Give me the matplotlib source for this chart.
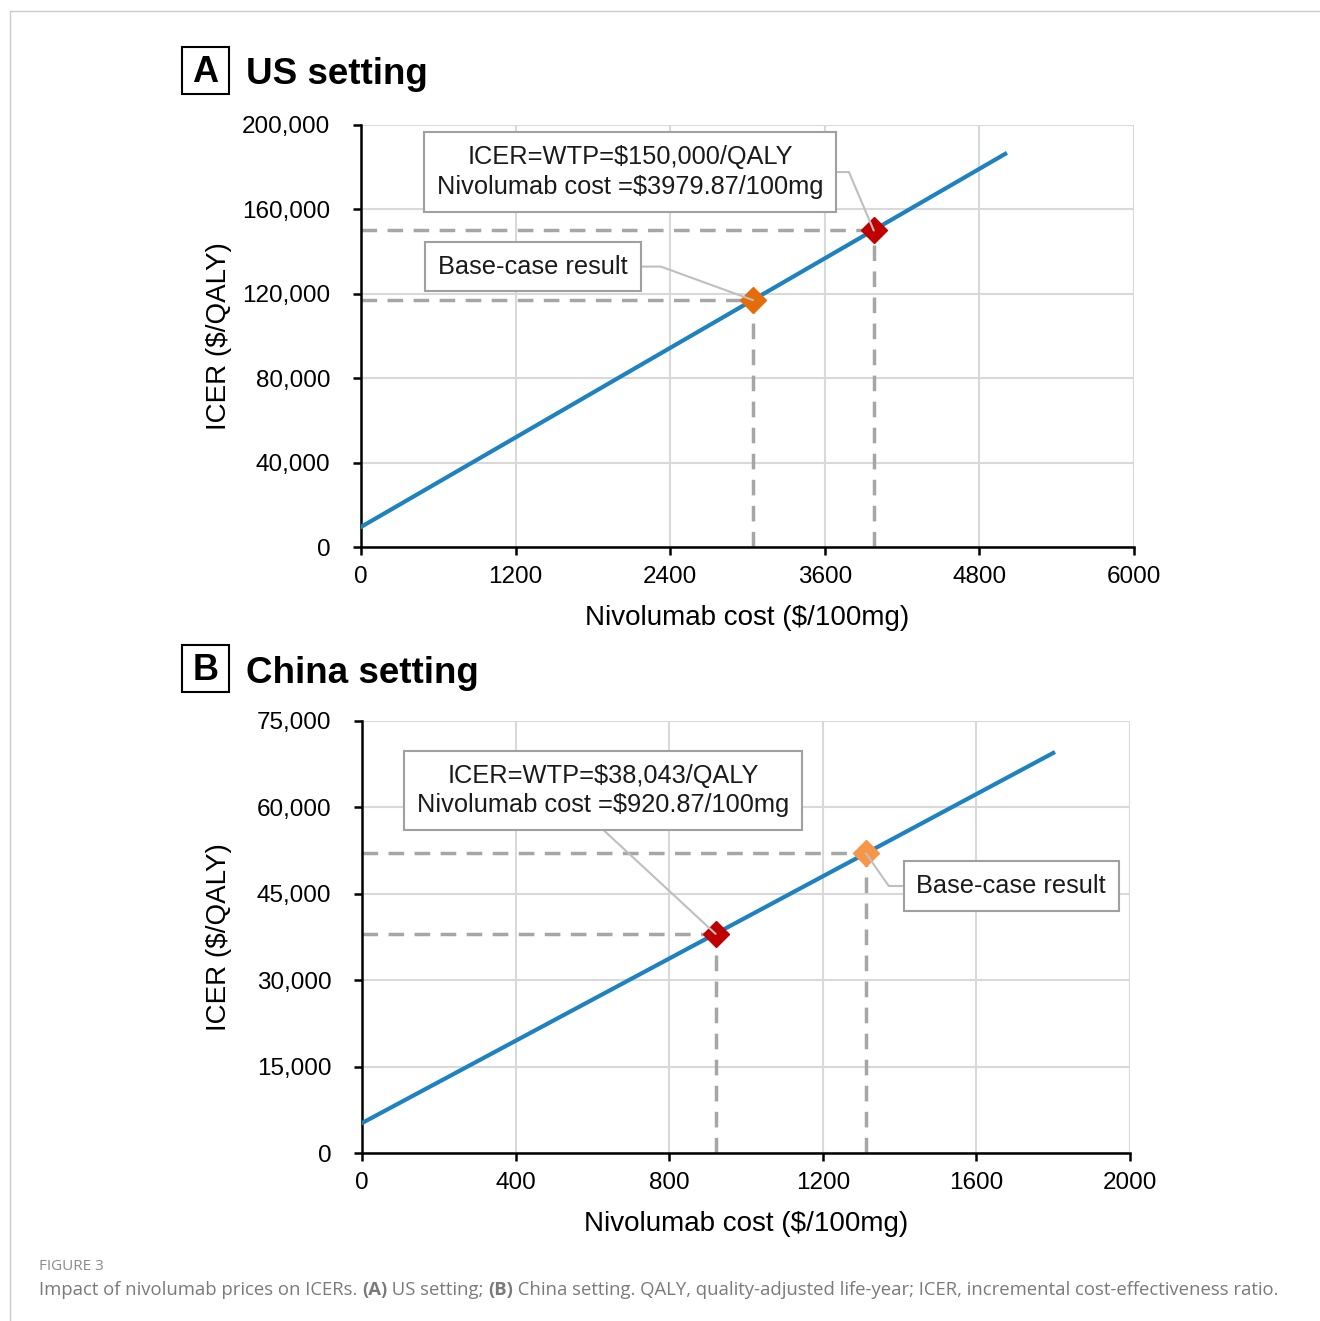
import matplotlib
matplotlib.use("Agg")
import matplotlib.pyplot as plt
from matplotlib.lines import Line2D
from matplotlib.patches import Rectangle

plt.rcParams['font.family'] = ['Liberation Sans', 'DejaVu Sans']

# ---- data ----
# US setting
us_cost = [0, 5000]
us_icer = [9500, 186300]
us_base_cost, us_base_icer = 3043, 117000
us_wtp_cost, us_wtp_icer = 3979.87, 150000
us_xticks = [0, 1200, 2400, 3600, 4800, 6000]
us_yticks = [0, 40000, 80000, 120000, 160000, 200000]

# China setting
cn_cost = [0, 1800]
cn_icer = [5200, 69450]
cn_base_cost, cn_base_icer = 1312, 52050
cn_wtp_cost, cn_wtp_icer = 920.87, 38043
cn_xticks = [0, 400, 800, 1200, 1600, 2000]
cn_yticks = [0, 15000, 30000, 45000, 60000, 75000]

BLUE = '#1F82C0'
DASH = '#A6A6A6'
GRID = '#D9D9D9'
RED = '#C00000'


def style_axes(ax, xticks, yticks):
    ax.set_xlim(xticks[0], xticks[-1])
    ax.set_ylim(yticks[0], yticks[-1])
    ax.set_xticks(xticks)
    ax.set_yticks(yticks)
    ax.set_xticklabels([str(t) for t in xticks])
    ax.set_yticklabels([f'{t:,}' for t in yticks])
    ax.grid(True, color=GRID, lw=1.5)
    ax.set_axisbelow(True)
    for s in ['top', 'right']:
        ax.spines[s].set_visible(False)
    for s in ['left', 'bottom']:
        ax.spines[s].set_linewidth(1.8)
        ax.spines[s].set_color('black')
    ax.tick_params(axis='y', direction='out', length=6, width=1.8, labelsize=17.5, pad=16)
    ax.tick_params(axis='x', direction='out', length=6, width=1.8, labelsize=17.5, pad=8)
    ax.set_xlabel('Nivolumab cost ($/100mg)', fontsize=20, labelpad=12)
    ax.set_ylabel('ICER ($/QALY)', fontsize=20)


def guide(ax, x, y, color):
    ax.plot([0, x], [y, y], color=DASH, lw=2.5, dashes=(4.5, 3), zorder=2)
    ax.plot([x, x], [0, y], color=DASH, lw=2.5, dashes=(4.5, 3), zorder=2)
    ax.plot([x], [y], marker='D', ms=13, color=color, mec=color, zorder=5, clip_on=False)


def box_note(ax, text, xy, xytext, relpos, conn, padA=True):
    arrow = dict(arrowstyle='-', color='#BFBFBF', lw=1.5, relpos=relpos,
                 connectionstyle=conn, shrinkA=0, shrinkB=0)
    if not padA:
        arrow['patchA'] = None
    ax.annotate(text, xy=xy, xytext=xytext, textcoords='data', ha='center', va='center',
                fontsize=18.3, color='#1a1a1a', linespacing=1.3, zorder=6,
                bbox=dict(boxstyle='square,pad=0.5', fc='white', ec='#A0A0A0', lw=1.5),
                arrowprops=arrow)


fig = plt.figure(figsize=(13.2, 13.21), dpi=100)

# ---- panel A ----
axA = fig.add_axes([361/1320, 1-547/1321, (1134-361)/1320, (547-125)/1321])
axA.plot(us_cost, us_icer, color=BLUE, lw=3, zorder=3)
guide(axA, us_base_cost, us_base_icer, '#E46C0A')
guide(axA, us_wtp_cost, us_wtp_icer, RED)
style_axes(axA, us_xticks, us_yticks)
axA.yaxis.set_label_coords(-0.167, 0.5)
box_note(axA, 'ICER=WTP=$150,000/QALY\nNivolumab cost =$3979.87/100mg',
         (us_wtp_cost, us_wtp_icer), (2088, 177700), (1, 0.5),
         'angle,angleA=0,angleB=113,rad=0')
box_note(axA, 'Base-case result', (us_base_cost, us_base_icer), (1335, 132900), (1, 0.5),
         'angle,angleA=0,angleB=160,rad=0')

# ---- panel B ----
axB = fig.add_axes([362/1320, 1-1153/1321, (1130-362)/1320, (1153-721)/1321])
axB.plot(cn_cost, cn_icer, color=BLUE, lw=3, zorder=3)
guide(axB, cn_base_cost, cn_base_icer, '#F79646')
guide(axB, cn_wtp_cost, cn_wtp_icer, RED)
style_axes(axB, cn_xticks, cn_yticks)
axB.yaxis.set_label_coords(-0.169, 0.5)
box_note(axB, 'ICER=WTP=$38,043/QALY\nNivolumab cost =$920.87/100mg',
         (cn_wtp_cost, cn_wtp_icer), (628, 62930), (0.5, -0.23), 'arc3', padA=False)
box_note(axB, 'Base-case result', (cn_base_cost, cn_base_icer), (1691, 46350), (0, 0.5),
         'angle,angleA=0,angleB=125,rad=0')

# ---- panel headings ----
for label, title, top in [('A', 'US setting', 47), ('B', 'China setting', 645)]:
    fig.add_artist(Rectangle((182/1320, 1-(top+47)/1321), 47/1320, 47/1321,
                             transform=fig.transFigure, fc='white', ec='black', lw=1.5))
    fig.text(205.5/1320, 1-(top+25)/1321, label, fontsize=26, fontweight='bold',
             ha='center', va='center')
    fig.text(246/1320, 1-(top+28)/1321, title, fontsize=26.5, fontweight='bold',
             ha='left', va='center')

# ---- frame ----
fig.add_artist(Line2D([10/1320, 10/1320], [0, 1-11/1321], transform=fig.transFigure, color='#CCCCCC', lw=1))
fig.add_artist(Line2D([10/1320, 1], [1-11/1321, 1-11/1321], transform=fig.transFigure, color='#CCCCCC', lw=1))

# ---- caption ----
cap_font = ['Open Sans', 'DejaVu Sans']
fig.text(39/1320, 1-1266/1321, 'FIGURE 3', fontsize=11, color='#8A8A8A', family=cap_font, va='center')
pieces = [('Impact of nivolumab prices on ICERs. ', 'normal'), ('(A)', 'bold'),
          (' US setting; ', 'normal'), ('(B)', 'bold'),
          (' China setting. QALY, quality-adjusted life-year; ICER, incremental cost-effectiveness ratio.', 'normal')]
renderer = fig.canvas.get_renderer()
x = 39
for txt, w in pieces:
    t = fig.text(x/1320, 1-1290/1321, txt, fontsize=13.3, color='#7A7A7A', family=cap_font,
                 fontweight=w, va='center', ha='left')
    x += t.get_window_extent(renderer).width

fig.savefig('out.png', dpi=100)
